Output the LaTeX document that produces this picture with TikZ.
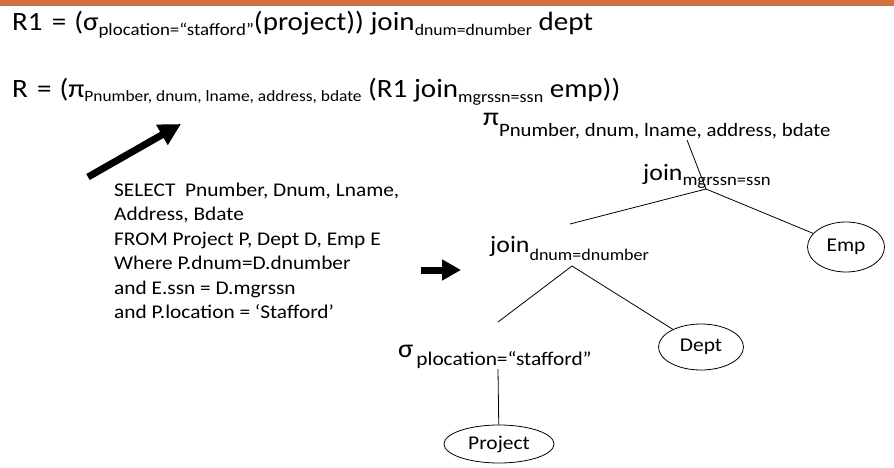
\documentclass[tikz,border=0pt]{standalone}
\usepackage{fontspec}
\setmainfont{Carlito}[FakeStretch=1.1]
\usetikzlibrary{shapes.geometric, arrows.meta}
\definecolor{barorange}{RGB}{209,113,64}
\newcommand{\lowsub}[3]{\raisebox{-#2pt}{\fontsize{#1}{#1}\selectfont #3}}

\begin{document}
\begin{tikzpicture}[x=1pt,y=-1pt,
    formula/.style={anchor=base west, inner sep=0pt, font=\fontsize{26.4}{30}\selectfont},
    treeop/.style={formula, font=\fontsize{23.5}{27}\selectfont},
    leaf/.style={ellipse, draw, line width=0.8pt, inner sep=0pt, font=\fontsize{19.5}{22}\selectfont},
    fatarrow/.style={-{Triangle[length=22pt,width=22pt]}, line width=7pt}]
    \useasboundingbox (0,0) rectangle (894,468);
    \fill[barorange] (0,0) rectangle (894,6.5);
    \node[formula] (rone) at (12,31) {R1\hspace{0.35em}=\hspace{0.3em}(σ\lowsub{17.2}{5}{plocation=“stafford”}(project)) join\lowsub{16.1}{5}{dnum=dnumber} dept};
    \node[formula] (rtwo) at (12,98) {R\hspace{0.35em}=\hspace{0.3em}(π\lowsub{15.8}{4}{Pnumber, dnum, lname, address, bdate} (R1 join\lowsub{16.4}{5}{mgrssn=ssn} emp))};
    \node[anchor=base west, inner sep=0pt, align=left, font=\fontsize{19.4}{24.5}\selectfont] (sql) at (114,318.5)
        {SELECT\ \ Pnumber, Dnum, Lname,\\Address, Bdate\\FROM Project P, Dept D, Emp E\\Where P.dnum=D.dnumber\\and E.ssn = D.mgrssn\\and P.location = ‘Stafford’};
    % arrows
    \coordinate (upfrom) at (88,177);
    \coordinate (upto) at (181,124);
    \draw[fatarrow] (upfrom) -- (upto);
    \coordinate (rightfrom) at (421,270);
    \coordinate (rightto) at (461,270);
    \draw[fatarrow, -{Triangle[length=19pt,width=20pt]}] (rightfrom) -- (rightto);
    % query tree
    \node[formula, font=\fontsize{26}{30}\selectfont] (proj) at (483,126) {π\lowsub{18.9}{11}{Pnumber, dnum, lname, address, bdate}};
    \node[treeop] (joinone) at (643,180) {join\lowsub{17}{5}{mgrssn=ssn}};
    \node[treeop] (jointwo) at (490,252) {join\lowsub{16.4}{8}{dnum=dnumber}};
    \node[formula, font=\fontsize{26}{30}\selectfont] (sel) at (398,357) {σ\hspace{3pt}\lowsub{19.4}{8}{plocation=“stafford”}};
    \node[leaf, minimum width=77pt, minimum height=50pt] (emp) at (846,247) {Emp};
    \node[leaf, minimum width=85pt, minimum height=46pt] (dept) at (701,347) {Dept};
    \node[leaf, minimum width=110pt, minimum height=38pt] (project) at (499,444) {Project};
    \coordinate (projfoot) at (687,140);
    \coordinate (joneapex) at (706,189);
    \coordinate (joneleft) at (570,224);
    \coordinate (jtwoapex) at (572,266);
    \coordinate (jtwoleft) at (498,322);
    \coordinate (selfoot) at (498,369);
    \draw[line width=0.8pt] (projfoot) -- (joneapex);
    \draw[line width=0.8pt] (joneapex) -- (joneleft);
    \draw[line width=0.8pt] (joneapex) -- (emp);
    \draw[line width=0.8pt] (jtwoapex) -- (jtwoleft);
    \draw[line width=0.8pt] (jtwoapex) -- (dept);
    \draw[line width=0.8pt] (selfoot) -- (project);
\end{tikzpicture}
\end{document}
